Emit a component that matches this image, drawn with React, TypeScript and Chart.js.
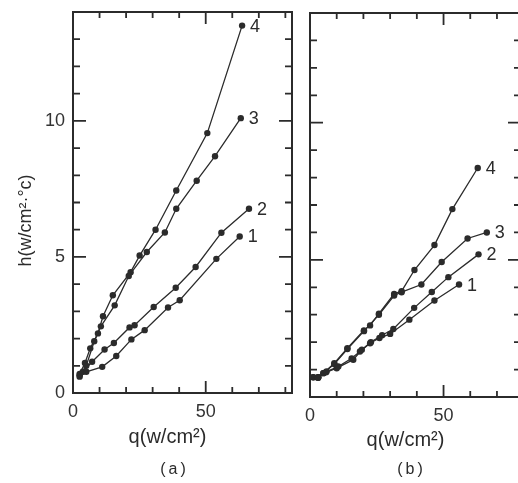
import React, { useEffect, useRef } from 'react';
import { Chart, registerables } from 'chart.js';

Chart.register(...registerables);

// ---- Panel (a) data: q (W/cm²) and h (W/cm²·°C) ----
const aQ1 = [2.5, 5, 11, 16.3, 22, 27, 35.8, 40.2, 54, 62.8];
const aH1 = [0.6, 0.78, 0.96, 1.36, 1.97, 2.31, 3.14, 3.41, 4.93, 5.75];
const aQ2 = [3.7, 7.2, 11.9, 15.4, 21.3, 23.2, 30.4, 38.7, 46.2, 55.9, 66.3];
const aH2 = [0.78, 1.15, 1.6, 1.84, 2.41, 2.49, 3.16, 3.87, 4.63, 5.89, 6.77];
const aQ3 = [2.5, 5, 8, 10.5, 15.7, 21, 27.8, 34.6, 38.9, 46.6, 53.5, 63.2];
const aH3 = [0.65, 1.0, 1.9, 2.45, 3.22, 4.3, 5.18, 5.9, 6.77, 7.8, 8.7, 10.1];
const aQ4 = [2.5, 4.5, 6.5, 9.4, 11.3, 15, 21.7, 25.1, 31.1, 38.9, 50.6, 63.7];
const aH4 = [0.7, 1.1, 1.64, 2.19, 2.82, 3.59, 4.44, 5.05, 6.0, 7.44, 9.55, 13.5];

// ---- Panel (b) data ----
const bQ1 = [3, 6.2, 10.6, 15.6, 18.7, 22.5, 26, 30, 37.2, 46.6, 55.8];
const bH1 = [0.7, 0.93, 1.11, 1.41, 1.66, 1.96, 2.15, 2.3, 2.82, 3.52, 4.1];
const bQ2 = [3, 6, 10, 16.2, 19.4, 22.8, 27, 31.2, 39, 45.6, 51.8, 63.1];
const bH2 = [0.7, 0.9, 1.05, 1.36, 1.72, 2.0, 2.25, 2.48, 3.25, 3.83, 4.37, 5.2];
const bQ3 = [1.2, 3.1, 5, 9.1, 14, 20.2, 25.8, 31.5, 34.3, 41.7, 49.3, 59, 66.2];
const bH3 = [0.72, 0.72, 0.87, 1.2, 1.75, 2.4, 3.0, 3.7, 3.82, 4.1, 4.92, 5.78, 6.0];
const bQ4 = [1.2, 3.1, 5, 9.1, 14, 20.2, 22.5, 25.8, 31.5, 34.3, 39.1, 46.6, 53.3, 62.8];
const bH4 = [0.72, 0.72, 0.87, 1.23, 1.78, 2.43, 2.61, 3.04, 3.76, 3.86, 4.63, 5.54, 6.85, 8.35];

const curveLabels = ['1', '2', '3', '4'];
const xLabelValues = [0, 50];
const yLabelValues = [0, 5, 10];
const xTitle = 'q(w/cm²)';
const yTitle = 'h(w/cm²·°c)';
const panelA = '(a)';
const panelB = '(b)';

const FONT = '"Liberation Sans", "DejaVu Sans", Arial, sans-serif';
const INK = '#2b2b2b';

const pts = (q: number[], h: number[]) => q.map((v, i) => ({ x: v, y: h[i] }));

const framePlugin = {
  id: 'frame',
  afterDatasetsDraw(chart: any, _args: any, opts: any) {
    const { ctx, chartArea } = chart;
    const { left, right, top, bottom } = chartArea;
    const xs = chart.scales.x;
    const ys = chart.scales.y;
    ctx.save();
    ctx.strokeStyle = INK;
    ctx.lineWidth = 2;
    ctx.strokeRect(left, top, right - left, bottom - top);
    ctx.lineWidth = 1.8;
    ctx.beginPath();
    for (let v = 1; v < ys.max; v += 1) {
      const py = ys.getPixelForValue(v);
      const len = v % 5 === 0 ? 13 : 7;
      ctx.moveTo(left, py);
      ctx.lineTo(left + len, py);
      ctx.moveTo(right, py);
      ctx.lineTo(right - len, py);
    }
    for (let v = 10; v < xs.max; v += 10) {
      const px = xs.getPixelForValue(v);
      const len = v % 50 === 0 ? 12 : 6;
      ctx.moveTo(px, bottom);
      ctx.lineTo(px, bottom - len);
      ctx.moveTo(px, top);
      ctx.lineTo(px, top + len);
    }
    ctx.stroke();

    // curve end labels
    ctx.fillStyle = INK;
    ctx.font = `18px ${FONT}`;
    ctx.textAlign = 'left';
    ctx.textBaseline = 'middle';
    chart.data.datasets.forEach((ds: any, i: number) => {
      const meta = chart.getDatasetMeta(i);
      const el = meta.data[meta.data.length - 1];
      ctx.fillText(ds.label, el.x + 8, el.y + 1);
    });

    // titles
    const cx = (left + right) / 2;
    ctx.textAlign = 'center';
    ctx.font = `20px ${FONT}`;
    ctx.fillText(xTitle, cx + opts.qdx, bottom + opts.qdy);
    ctx.font = `16px ${FONT}`;
    (ctx as any).letterSpacing = '3px';
    ctx.fillText(opts.panel, cx + opts.pdx, bottom + opts.pdy);
    (ctx as any).letterSpacing = '0px';
    if (opts.yTitle) {
      ctx.font = `18px ${FONT}`;
      ctx.translate(26, (top + bottom) / 2 + 18);
      ctx.rotate(-Math.PI / 2);
      ctx.fillText(yTitle, 0, 0);
    }
    ctx.restore();
  },
};

function makeDatasets(series: [number[], number[]][]) {
  return series.map(([q, h], i) => ({
    label: curveLabels[i],
    data: pts(q, h),
    showLine: true,
    borderColor: INK,
    borderWidth: 1.3,
    pointRadius: 3.2,
    pointBackgroundColor: INK,
    pointBorderWidth: 0,
    tension: 0,
  }));
}

function makeConfig(
  series: [number[], number[]][],
  xMax: number,
  showY: boolean,
  padding: any,
  xHeight: number,
  yWidth: number,
  frameOpts: any
): any {
  return {
    type: 'scatter',
    data: { datasets: makeDatasets(series) },
    options: {
      responsive: false,
      animation: false,
      layout: { padding },
      plugins: {
        legend: { display: false },
        tooltip: { enabled: false },
        frame: frameOpts,
      },
      scales: {
        x: {
          type: 'linear',
          min: 0,
          max: xMax,
          grid: { display: false, drawTicks: false },
          border: { display: false },
          ticks: {
            stepSize: 10,
            autoSkip: false,
            maxRotation: 0,
            padding: 8,
            color: '#333',
            font: { family: FONT, size: 18 },
            callback: (v: any) => (xLabelValues.includes(Number(v)) ? String(v) : ''),
          },
          afterFit: (s: any) => {
            s.height = xHeight;
            s.paddingLeft = 0;
            s.paddingRight = 0;
          },
        },
        y: {
          type: 'linear',
          min: 0,
          max: 14,
          display: showY,
          grid: { display: false, drawTicks: false },
          border: { display: false },
          ticks: {
            stepSize: 1,
            autoSkip: false,
            padding: 8,
            color: '#333',
            font: { family: FONT, size: 18 },
            callback: (v: any) => (yLabelValues.includes(Number(v)) ? String(v) : ''),
          },
          afterFit: (s: any) => {
            s.width = yWidth;
            s.paddingTop = 0;
            s.paddingBottom = 0;
          },
        },
      },
    },
    plugins: [framePlugin],
  };
}

export default function App() {
  const refA = useRef<HTMLCanvasElement>(null);
  const refB = useRef<HTMLCanvasElement>(null);

  useEffect(() => {
    const chartA = new Chart(
      refA.current as HTMLCanvasElement,
      makeConfig(
        [
          [aQ1, aH1],
          [aQ2, aH2],
          [aQ3, aH3],
          [aQ4, aH4],
        ],
        82.5,
        true,
        { top: 12, right: 8, left: 0, bottom: 0 },
        90,
        73,
        { qdx: -15, qdy: 44, pdx: -8, pdy: 77, panel: panelA, yTitle: true }
      )
    );
    const chartB = new Chart(
      refB.current as HTMLCanvasElement,
      makeConfig(
        [
          [bQ1, bH1],
          [bQ2, bH2],
          [bQ3, bH3],
          [bQ4, bH4],
        ],
        79,
        false,
        { top: 13, right: 9, left: 10, bottom: 0 },
        86,
        0,
        { qdx: -10, qdy: 43, pdx: -4, pdy: 73, panel: panelB, yTitle: false }
      )
    );
    return () => {
      chartA.destroy();
      chartB.destroy();
    };
  }, []);

  return (
    <div
      style={{
        position: 'absolute',
        left: 0,
        top: 0,
        width: 518,
        height: 483,
        overflow: 'hidden',
        background: '#ffffff',
      }}
    >
      <canvas ref={refA} width={300} height={483} style={{ position: 'absolute', left: 0, top: 0 }} />
      <canvas ref={refB} width={230} height={483} style={{ position: 'absolute', left: 300, top: 0 }} />
    </div>
  );
}
